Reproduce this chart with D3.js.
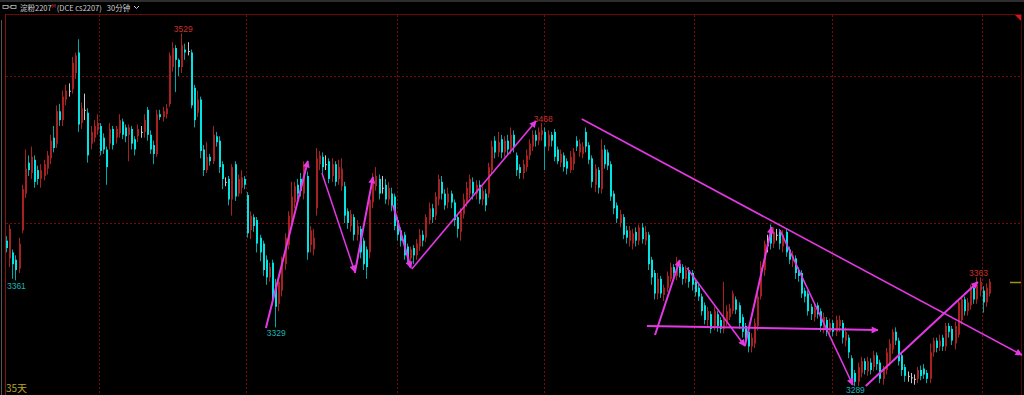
<!DOCTYPE html>
<html>
<head>
<meta charset="utf-8">
<script src="https://cdn.jsdelivr.net/npm/d3@7"></script>
<style>
html, body { margin: 0; padding: 0; background: #000; overflow: hidden; }
svg { display: block; }
text { font-family: "Liberation Sans", "Noto Sans CJK SC", sans-serif; }
</style>
</head>
<body>
<svg id="chart" width="1024" height="395"></svg>
<script>
// 30 minute bars of cs2207, each one [open, high, low, close]
var bars = [
  [3388,3391,3380,3383],[3376,3399,3370,3396],[3380,3382,3362,3372],[3375,3378,3361,3368],[3369,3390,3366,3386],
  [3395,3426,3393,3423],[3420,3450,3417,3437],[3441,3446,3432,3436],[3434,3452,3430,3445],[3443,3446,3424,3428],
  [3436,3439,3426,3430],[3430,3440,3424,3436],[3432,3443,3429,3440],[3437,3449,3433,3446],[3444,3460,3440,3456],
  [3458,3466,3448,3451],[3454,3480,3451,3476],[3476,3481,3466,3470],[3470,3490,3466,3486],[3484,3494,3480,3490],
  [3490,3495,3486,3490],[3491,3513,3488,3509],[3502,3516,3498,3514],[3516,3525,3462,3467],[3468,3482,3464,3478],
  [3477,3488,3470,3477],[3475,3478,3441,3446],[3454,3466,3450,3462],[3458,3470,3455,3466],[3463,3474,3460,3468],
  [3466,3468,3446,3449],[3458,3461,3447,3450],[3450,3452,3426,3438],[3454,3468,3450,3464],[3464,3466,3450,3453],
  [3458,3466,3454,3464],[3461,3474,3458,3470],[3469,3471,3457,3460],[3465,3467,3455,3459],[3460,3467,3442,3465],
  [3464,3466,3450,3454],[3457,3459,3446,3450],[3459,3467,3455,3464],[3462,3466,3458,3462],[3462,3474,3458,3470],
  [3477,3479,3456,3460],[3460,3463,3447,3450],[3453,3456,3440,3447],[3447,3477,3445,3474],[3474,3477,3470,3472],
  [3472,3479,3469,3476],[3474,3481,3471,3478],[3481,3516,3479,3514],[3506,3523,3503,3519],[3519,3521,3489,3511],
  [3511,3512,3500,3506],[3506,3529,3502,3521],[3518,3522,3511,3516],[3517,3523,3514,3517],[3516,3518,3478,3480],
  [3492,3494,3465,3470],[3475,3490,3472,3484],[3484,3486,3444,3449],[3450,3453,3432,3436],[3436,3455,3434,3445],
  [3445,3447,3439,3442],[3442,3466,3440,3460],[3459,3462,3452,3455],[3456,3459,3434,3438],[3440,3442,3423,3430],
  [3428,3431,3425,3428],[3430,3432,3412,3416],[3416,3440,3405,3438],[3440,3442,3415,3418],[3420,3433,3418,3430],
  [3424,3436,3420,3431],[3430,3432,3423,3426],[3419,3421,3390,3393],[3395,3408,3389,3405],[3404,3406,3394,3398],
  [3402,3404,3380,3386],[3390,3392,3374,3380],[3386,3388,3364,3368],[3375,3378,3358,3363],[3363,3373,3360,3370],
  [3373,3375,3344,3348],[3358,3362,3329,3343],[3345,3363,3340,3360],[3354,3377,3350,3375],[3372,3393,3368,3390],
  [3385,3408,3382,3405],[3402,3428,3398,3418],[3414,3428,3410,3425],[3426,3430,3416,3420],[3430,3434,3418,3422],
  [3420,3442,3416,3440],[3432,3435,3375,3380],[3385,3398,3380,3395],[3382,3396,3378,3390],[3410,3451,3405,3444],
  [3440,3449,3436,3446],[3445,3448,3434,3438],[3440,3446,3436,3440],[3442,3444,3427,3430],[3432,3444,3428,3440],
  [3440,3442,3425,3428],[3430,3443,3426,3438],[3425,3444,3422,3437],[3425,3428,3400,3405],[3408,3410,3396,3400],
  [3398,3409,3394,3406],[3404,3406,3388,3392],[3392,3402,3388,3398],[3396,3398,3376,3380],[3388,3390,3368,3372],
  [3382,3384,3362,3370],[3380,3420,3376,3416],[3414,3434,3410,3428],[3425,3438,3422,3432],[3430,3433,3416,3420],
  [3424,3432,3420,3424],[3426,3430,3413,3416],[3416,3428,3412,3424],[3420,3424,3408,3412],[3418,3420,3395,3398],
  [3402,3404,3388,3392],[3395,3397,3384,3388],[3392,3394,3375,3378],[3384,3386,3372,3376],[3376,3384,3373,3382],
  [3383,3385,3372,3378],[3378,3389,3375,3386],[3384,3396,3381,3392],[3392,3395,3384,3388],[3390,3406,3387,3404],
  [3402,3414,3399,3410],[3410,3413,3400,3404],[3405,3421,3402,3418],[3416,3433,3412,3430],[3428,3432,3416,3420],
  [3420,3423,3409,3412],[3414,3424,3410,3420],[3420,3422,3410,3414],[3414,3416,3398,3402],[3404,3406,3390,3396],
  [3394,3410,3388,3408],[3406,3420,3403,3416],[3414,3428,3411,3424],[3420,3433,3417,3430],[3428,3431,3416,3420],
  [3420,3429,3416,3426],[3426,3429,3413,3416],[3416,3425,3412,3422],[3420,3423,3408,3412],[3420,3441,3417,3438],
  [3436,3456,3433,3452],[3456,3459,3444,3448],[3448,3462,3445,3455],[3457,3460,3444,3448],[3448,3459,3445,3456],
  [3456,3460,3446,3450],[3450,3465,3447,3460],[3460,3463,3448,3452],[3446,3448,3432,3436],[3438,3440,3430,3434],
  [3434,3443,3430,3440],[3438,3450,3435,3446],[3446,3457,3443,3454],[3452,3463,3449,3460],[3460,3463,3452,3456],
  [3456,3465,3453,3462],[3460,3468,3456,3463],[3462,3465,3436,3452],[3452,3463,3449,3460],[3460,3462,3452,3456],
  [3462,3464,3442,3445],[3450,3452,3440,3442],[3441,3450,3438,3447],[3446,3448,3435,3438],[3442,3444,3433,3437],
  [3436,3449,3434,3445],[3440,3451,3436,3448],[3456,3459,3449,3452],[3448,3457,3445,3454],[3447,3455,3444,3452],
  [3462,3465,3448,3452],[3453,3455,3440,3443],[3444,3446,3424,3428],[3426,3440,3421,3437],[3436,3438,3420,3424],
  [3423,3457,3420,3450],[3450,3453,3437,3440],[3448,3450,3436,3439],[3440,3442,3415,3418],[3420,3422,3406,3410],
  [3412,3414,3400,3403],[3400,3409,3397,3406],[3404,3406,3389,3392],[3395,3398,3386,3390],[3388,3398,3384,3395],
  [3386,3396,3382,3393],[3394,3397,3384,3388],[3388,3399,3385,3397],[3397,3400,3386,3389],[3388,3398,3385,3394],
  [3392,3394,3368,3372],[3375,3377,3358,3363],[3366,3368,3348,3352],[3352,3366,3348,3362],[3362,3364,3349,3352],
  [3351,3358,3347,3356],[3356,3367,3353,3364],[3362,3373,3360,3370],[3370,3372,3362,3366],[3364,3377,3361,3374],
  [3372,3374,3363,3366],[3370,3372,3358,3362],[3362,3371,3359,3368],[3368,3370,3356,3360],[3366,3368,3354,3358],
  [3360,3362,3350,3353],[3356,3358,3347,3350],[3350,3352,3337,3340],[3344,3346,3331,3334],[3334,3343,3330,3340],
  [3338,3340,3325,3328],[3330,3343,3327,3340],[3338,3340,3326,3330],[3334,3336,3325,3328],[3328,3360,3325,3335],
  [3332,3344,3330,3340],[3336,3345,3334,3342],[3340,3354,3338,3352],[3348,3350,3338,3341],[3344,3346,3328,3332],
  [3336,3338,3322,3326],[3330,3332,3318,3322],[3326,3328,3312,3316],[3316,3325,3312,3322],[3318,3335,3315,3332],
  [3330,3352,3327,3350],[3350,3374,3348,3370],[3368,3388,3364,3386],[3385,3392,3380,3385],[3394,3399,3382,3386],
  [3386,3397,3383,3394],[3392,3396,3388,3392],[3394,3396,3382,3386],[3384,3395,3380,3392],[3394,3396,3377,3380],
  [3382,3384,3372,3375],[3374,3381,3370,3378],[3376,3378,3362,3366],[3368,3370,3360,3364],[3366,3368,3349,3352],
  [3354,3356,3346,3350],[3352,3354,3337,3340],[3343,3345,3334,3338],[3336,3345,3333,3342],[3344,3346,3335,3338],
  [3340,3342,3326,3330],[3328,3339,3325,3336],[3334,3336,3323,3326],[3326,3335,3323,3332],[3332,3334,3323,3326],
  [3326,3337,3323,3334],[3330,3337,3326,3334],[3332,3334,3318,3322],[3320,3329,3316,3326],[3322,3324,3308,3312],
  [3308,3310,3290,3294],[3298,3300,3289,3292],[3292,3305,3289,3302],[3298,3309,3295,3306],[3306,3308,3297,3300],
  [3299,3309,3296,3306],[3305,3308,3297,3300],[3302,3313,3299,3310],[3310,3312,3300,3304],[3305,3307,3291,3294],
  [3294,3303,3290,3300],[3300,3315,3297,3312],[3306,3321,3303,3318],[3314,3328,3311,3326],[3326,3329,3317,3320],
  [3320,3322,3303,3306],[3310,3312,3296,3300],[3302,3304,3292,3296],[3296,3299,3292,3296],[3295,3298,3291,3295],
  [3294,3297,3290,3294],[3294,3302,3291,3300],[3300,3303,3293,3296],[3301,3304,3294,3297],[3298,3300,3291,3294],
  [3294,3318,3291,3312],[3312,3322,3309,3320],[3320,3322,3312,3315],[3316,3324,3313,3320],[3322,3324,3313,3316],
  [3316,3332,3313,3330],[3330,3332,3322,3326],[3328,3330,3317,3320],[3318,3333,3314,3330],[3324,3348,3322,3346],
  [3334,3350,3331,3348],[3348,3350,3337,3340],[3340,3349,3337,3346],[3344,3358,3341,3356],[3356,3358,3345,3348],
  [3348,3363,3345,3358],[3354,3363,3350,3360],[3354,3357,3339,3346],[3346,3359,3343,3356],[3352,3362,3350,3360]
];

// first bar of every week: a dashed separator is drawn before it
var weekStarts = [30, 77, 125, 172, 220, 264, 312];
var gridPrices = [3500, 3400];
var highMarks = [56, 171, 310];
var lowMarks = [3, 86, 271];

// hand drawn lines on the chart: [bar1, price1, bar2, price2, width]
var arrows = [
  [82.7, 3328.6, 96.1, 3442.2, 2],
  [100.6, 3434, 111.1, 3366.7, 1.5],
  [111.1, 3366, 116.9, 3431.3, 2],
  [123.3, 3412.2, 129, 3369.4, 2],
  [129.3, 3368.7, 169, 3469.4, 1.6],
  [183.6, 3470.7, 324.2, 3310.2, 1.6],
  [204.4, 3329.9, 278.2, 3327.2, 2],
  [207, 3323.8, 214.9, 3374.8, 2],
  [217.2, 3369.4, 235.7, 3316.3, 1.6],
  [235.7, 3316.3, 244.3, 3397.3, 2],
  [246.9, 3395.2, 270.2, 3289.8, 1.6],
  [274.3, 3289.1, 310.1, 3359.9, 2]
];

var svg = d3.select("#chart");
var W = 1024, H = 395;

var x = d3.scaleLinear().domain([0, bars.length - 1]).range([7, 990]);
var y = d3.scaleLinear().domain([3400, 3500]).range([223, 76]);

svg.append("rect").attr("width", W).attr("height", H).attr("fill", "#000");

// header: one text line, pieces follow each other
svg.append("rect").attr("width", W).attr("height", 2).attr("fill", "#2e2e2e");
var headFont = "'Noto Sans CJK SC', sans-serif";
var head = svg.append("text").attr("x", 20).attr("y", 11).attr("font-size", 7.5).attr("fill", "#cfcfcf")
  .style("font-family", headFont);
head.append("tspan").text("淀粉2207");
head.append("tspan").attr("dy", -3.5).attr("font-size", 5).attr("fill", "#d03030").text("M");
head.append("tspan").attr("dy", 3.5).attr("dx", 1).text("(DCE cs2207)");
head.append("tspan").attr("dx", 5).text("30分钟");
svg.append("path").attr("d", "M134,6 L136.5,8.5 L139,6").attr("stroke", "#cfcfcf").attr("fill", "none");
svg.append("rect").attr("x", 3).attr("y", 5.5).attr("width", 5).attr("height", 3).attr("fill", "none").attr("stroke", "#bbb").attr("stroke-width", 0.8);
svg.append("rect").attr("x", 11).attr("y", 5.5).attr("width", 5).attr("height", 3).attr("fill", "none").attr("stroke", "#bbb").attr("stroke-width", 0.8);
svg.append("line").attr("x1", 8).attr("x2", 11).attr("y1", 7).attr("y2", 7).attr("stroke", "#bbb").attr("stroke-width", 0.8);

// frame
svg.append("line").attr("x1", 5).attr("x2", 1022).attr("y1", 14.5).attr("y2", 14.5).attr("stroke", "#6a0808");
svg.append("line").attr("x1", 5.5).attr("x2", 5.5).attr("y1", 14).attr("y2", H).attr("stroke", "#8a1010");
svg.append("line").attr("x1", 1.5).attr("x2", 1.5).attr("y1", 20).attr("y2", H).attr("stroke", "#555");
svg.append("line").attr("x1", 1021.5).attr("x2", 1021.5).attr("y1", 14).attr("y2", H).attr("stroke", "#4a0606");
svg.append("path").attr("d", "M1015,15 L1021,15 L1021,21 Z").attr("fill", "#d01818");

// dashed grid
svg.selectAll(".hgrid").data(gridPrices).enter().append("line")
  .attr("class", "hgrid")
  .attr("x1", 6).attr("x2", 1021)
  .attr("y1", function(d) { return Math.round(y(d)) + 0.5; })
  .attr("y2", function(d) { return Math.round(y(d)) + 0.5; })
  .attr("stroke", "#7a0a0a").attr("stroke-dasharray", "2,2");

svg.selectAll(".vgrid").data(weekStarts).enter().append("line")
  .attr("class", "vgrid")
  .attr("x1", function(d) { return Math.round(x(d - 0.5)) + 0.5; })
  .attr("x2", function(d) { return Math.round(x(d - 0.5)) + 0.5; })
  .attr("y1", 15).attr("y2", H)
  .attr("stroke", "#7a0a0a").attr("stroke-dasharray", "2,2");

// candles
function colour(d) {
  if (d[3] > d[0]) return "#a82020";
  if (d[3] < d[0]) return "#00e4e4";
  return "#c8c8c8";
}

var g = svg.append("g");
var candle = g.selectAll(".bar").data(bars).enter().append("g").attr("class", "bar");

candle.append("line")
  .attr("x1", function(d, i) { return Math.round(x(i)) - 0.5; })
  .attr("x2", function(d, i) { return Math.round(x(i)) - 0.5; })
  .attr("y1", function(d) { return y(d[1]); })
  .attr("y2", function(d) { return y(d[2]); })
  .attr("stroke", function(d) { return d[3] < d[0] ? "#00a8a8" : colour(d); })
  .attr("stroke-width", 1);

candle.append("rect")
  .attr("x", function(d, i) { return Math.round(x(i)) - 1; })
  .attr("width", 2)
  .attr("y", function(d) { return y(Math.max(d[0], d[3])); })
  .attr("height", function(d) { return Math.max(1, Math.abs(y(d[0]) - y(d[3]))); })
  .attr("fill", colour);

// high / low labels
svg.selectAll(".hi").data(highMarks).enter().append("text")
  .attr("x", function(i) { return x(i) + 1; })
  .attr("y", function(i) { return y(bars[i][1]) - 1.5; })
  .attr("text-anchor", "middle").attr("font-size", 8.5).attr("fill", "#c8302c")
  .text(function(i) { return bars[i][1]; });

svg.selectAll(".lo").data(lowMarks).enter().append("text")
  .attr("x", function(i) { return Math.max(x(i), 14); })
  .attr("y", function(i) { return Math.min(y(bars[i][2]) + 9, 393); })
  .attr("text-anchor", "middle").attr("font-size", 8.5).attr("fill", "#1cb4b4")
  .text(function(i) { return bars[i][2]; });

// last price marker on the right
var last = bars[bars.length - 1][3];
svg.append("line").attr("x1", 1010).attr("x2", 1021)
  .attr("y1", Math.round(y(last)) + 0.5).attr("y2", Math.round(y(last)) + 0.5)
  .attr("stroke", "#a09018").attr("stroke-width", 1.5);

// drawn arrows
var mag = "#e438e4";
svg.append("defs").append("marker")
  .attr("id", "head").attr("viewBox", "0 0 10 10")
  .attr("refX", 9).attr("refY", 5)
  .attr("markerWidth", 9).attr("markerHeight", 7)
  .attr("markerUnits", "userSpaceOnUse")
  .attr("orient", "auto")
  .append("path").attr("d", "M0,0 L10,5 L0,10 Z").attr("fill", mag);

svg.selectAll(".arrow").data(arrows).enter().append("line")
  .attr("class", "arrow")
  .attr("x1", function(d) { return x(d[0]); })
  .attr("y1", function(d) { return y(d[1]); })
  .attr("x2", function(d) { return x(d[2]); })
  .attr("y2", function(d) { return y(d[3]); })
  .attr("stroke", mag)
  .attr("stroke-width", function(d) { return d[4]; })
  .attr("marker-end", "url(#head)");

// bottom left day count
svg.append("text").attr("x", 6).attr("y", 392).attr("font-size", 10).attr("fill", "#b8a428")
  .style("font-family", headFont)
  .text("35天");
</script>
</body>
</html>
